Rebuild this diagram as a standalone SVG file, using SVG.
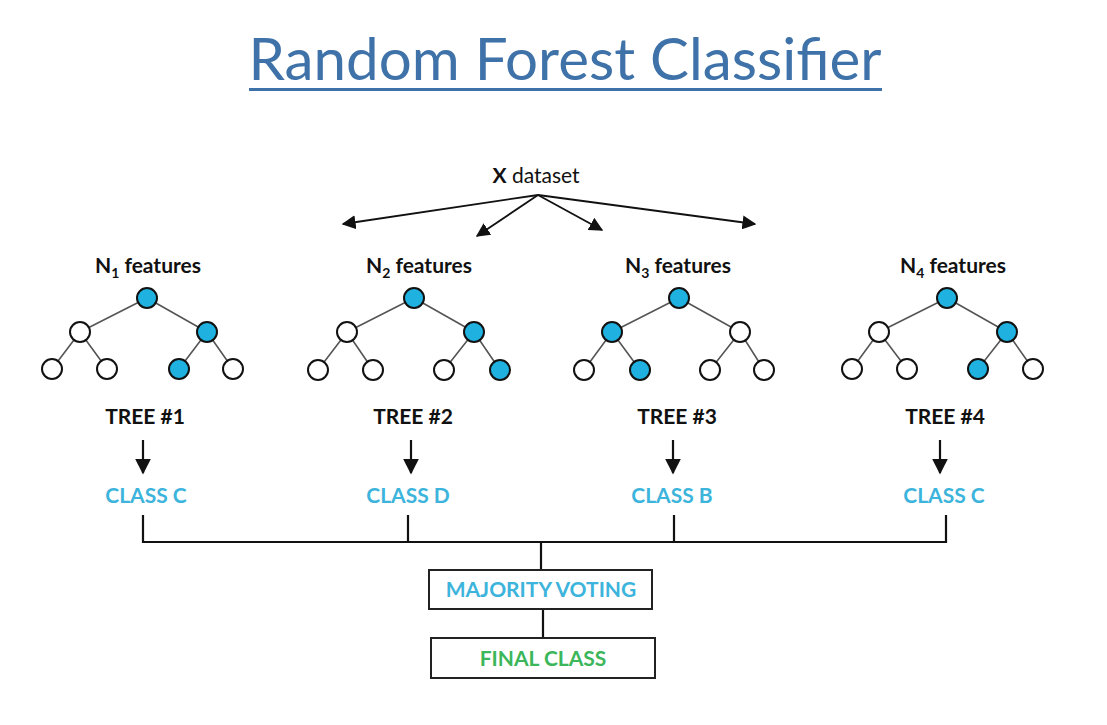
<svg xmlns="http://www.w3.org/2000/svg" width="1107" height="725" viewBox="0 0 1107 725">
<defs>
<style>
.t{font-family:Lato,"Open Sans","Liberation Sans",sans-serif}
.lbl{font-family:Lato,"Open Sans","Liberation Sans",sans-serif;font-weight:bold;font-size:21px;fill:#111;text-anchor:middle}
.cls{font-family:Lato,"Open Sans","Liberation Sans",sans-serif;font-weight:bold;font-size:21px;fill:#3cb4dc;text-anchor:middle}
.e{stroke:#555;stroke-width:1.6;fill:none}
.w{fill:#fff;stroke:#111;stroke-width:2}
.b{fill:#1fb2e0;stroke:#111;stroke-width:2}
.c{stroke:#111;stroke-width:1.8;fill:none}
.k{stroke:#111;stroke-width:2.2;fill:none}
.box{fill:#fff;stroke:#222;stroke-width:2}
</style>
<marker id="ah2" viewBox="0 0 10 10" refX="9" refY="5" markerWidth="14" markerHeight="14" orient="auto" markerUnits="userSpaceOnUse">
<path d="M0,0 L10,5 L0,10 z" fill="#111"/>
</marker>
<marker id="ah3" viewBox="0 0 10 10" refX="9" refY="5" markerWidth="16" markerHeight="16" orient="auto" markerUnits="userSpaceOnUse">
<path d="M0,0 L10,5 L0,10 z" fill="#111"/>
</marker>
</defs>
<rect width="1107" height="725" fill="#fff"/>
<g id="title">
<text class="t" x="565" y="80" font-size="58" fill="#3f72a8" text-anchor="middle" textLength="633" lengthAdjust="spacingAndGlyphs">Random Forest Classifier</text>
<rect x="249" y="88" width="633" height="3" fill="#3f72a8"/>
</g>
<g id="dataset">
<text class="t" x="536" y="183" font-size="21" fill="#111" text-anchor="middle"><tspan font-weight="bold">X</tspan> dataset</text>
</g>
<g id="connectors">
<path class="c" d="M538,195 L343,224" marker-end="url(#ah2)"/>
<path class="c" d="M538,195 L477,236" marker-end="url(#ah2)"/>
<path class="c" d="M538,195 L602,230" marker-end="url(#ah2)"/>
<path class="c" d="M538,195 L755,224" marker-end="url(#ah2)"/>
<path class="k" d="M143,440 L143,473" marker-end="url(#ah3)" stroke-width="3"/>
<path class="k" d="M411,440 L411,473" marker-end="url(#ah3)" stroke-width="3"/>
<path class="k" d="M673,440 L673,473" marker-end="url(#ah3)" stroke-width="3"/>
<path class="k" d="M940,440 L940,473" marker-end="url(#ah3)" stroke-width="3"/>
<path class="k" d="M143,515 L143,542 L946,542 L946,515 M408,515 L408,542 M674,515 L674,542 M541,542 L541,570 M543,609 L543,638"/>
</g>
<g id="tree1">
<text class="lbl" x="148" y="273">N<tspan font-size="14" dy="5">1</tspan><tspan dy="-5"> features</tspan></text>
<path class="e" d="M147,298 L80,332 M147,298 L207,332 M80,332 L52,369 M80,332 L107,369 M207,332 L179,369 M207,332 L233,369"/>
<circle class="b" cx="147" cy="298" r="10"/>
<circle class="w" cx="80" cy="332" r="10"/>
<circle class="b" cx="207" cy="332" r="10"/>
<circle class="w" cx="52" cy="369" r="10"/>
<circle class="w" cx="107" cy="369" r="10"/>
<circle class="b" cx="179" cy="369" r="10"/>
<circle class="w" cx="233" cy="369" r="10"/>
<text class="lbl" x="145" y="424">TREE #1</text>
<text class="cls" x="146" y="503">CLASS C</text>
</g>
<g id="tree2">
<text class="lbl" x="419" y="273">N<tspan font-size="14" dy="5">2</tspan><tspan dy="-5"> features</tspan></text>
<path class="e" d="M414,298 L347,332 M414,298 L474,332 M347,332 L318,370 M347,332 L373,370 M474,332 L444,370 M474,332 L500,370"/>
<circle class="b" cx="414" cy="298" r="10"/>
<circle class="w" cx="347" cy="332" r="10"/>
<circle class="b" cx="474" cy="332" r="10"/>
<circle class="w" cx="318" cy="370" r="10"/>
<circle class="w" cx="373" cy="370" r="10"/>
<circle class="w" cx="444" cy="370" r="10"/>
<circle class="b" cx="500" cy="370" r="10"/>
<text class="lbl" x="413" y="424">TREE #2</text>
<text class="cls" x="408" y="503">CLASS D</text>
</g>
<g id="tree3">
<text class="lbl" x="678" y="273">N<tspan font-size="14" dy="5">3</tspan><tspan dy="-5"> features</tspan></text>
<path class="e" d="M679,298 L612,332 M679,298 L740,332 M612,332 L584,370 M612,332 L640,370 M740,332 L710,370 M740,332 L764,370"/>
<circle class="b" cx="679" cy="298" r="10"/>
<circle class="b" cx="612" cy="332" r="10"/>
<circle class="w" cx="740" cy="332" r="10"/>
<circle class="w" cx="584" cy="370" r="10"/>
<circle class="b" cx="640" cy="370" r="10"/>
<circle class="w" cx="710" cy="370" r="10"/>
<circle class="w" cx="764" cy="370" r="10"/>
<text class="lbl" x="677" y="424">TREE #3</text>
<text class="cls" x="672" y="503">CLASS B</text>
</g>
<g id="tree4">
<text class="lbl" x="953" y="273">N<tspan font-size="14" dy="5">4</tspan><tspan dy="-5"> features</tspan></text>
<path class="e" d="M947,298 L879,332 M947,298 L1007,332 M879,332 L852,369 M879,332 L907,369 M1007,332 L978,369 M1007,332 L1033,369"/>
<circle class="b" cx="947" cy="298" r="10"/>
<circle class="w" cx="879" cy="332" r="10"/>
<circle class="b" cx="1007" cy="332" r="10"/>
<circle class="w" cx="852" cy="369" r="10"/>
<circle class="w" cx="907" cy="369" r="10"/>
<circle class="b" cx="978" cy="369" r="10"/>
<circle class="w" cx="1033" cy="369" r="10"/>
<text class="lbl" x="945" y="424">TREE #4</text>
<text class="cls" x="944" y="503">CLASS C</text>
</g>
<g id="majority">
<rect class="box" x="429" y="570" width="223" height="39"/>
<text class="cls" x="541" y="597">MAJORITY VOTING</text>
</g>
<g id="final">
<rect class="box" x="431" y="638" width="224" height="40"/>
<text class="cls" x="543" y="666" style="fill:#3cb65a">FINAL CLASS</text>
</g>
</svg>
